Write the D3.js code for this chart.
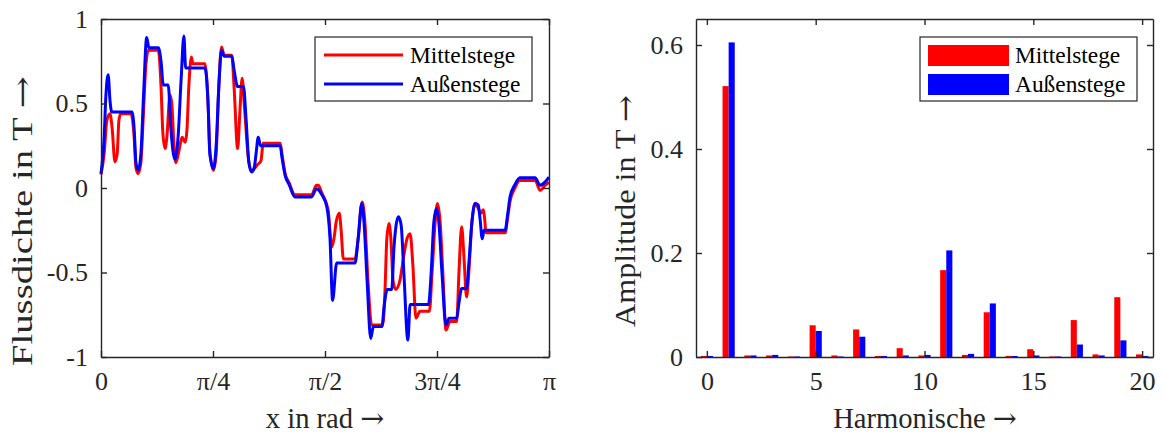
<!DOCTYPE html>
<html>
<head>
<meta charset="utf-8">
<script src="https://cdn.jsdelivr.net/npm/d3@7"></script>
<style>
  body { margin: 0; background: #fff; }
  svg { display: block; }
  text { font-family: "Liberation Serif", "Times New Roman", serif; }
  tspan.arr { font-family: "DejaVu Serif", serif; }
</style>
</head>
<body>
<svg id="chart" width="1163" height="435"></svg>
<script>
// left plot: flux density along x (x given as fraction of pi)
var mittelX = [0.000,0.007,0.013,0.020,0.025,0.031,0.036,0.040,0.044,0.067,0.074,0.078,0.083,0.089,0.094,0.100,0.106,0.128,0.134,0.138,0.143,0.147,0.154,0.158,0.163,0.167,0.174,0.181,0.188,0.192,0.196,0.202,0.205,0.232,0.239,0.243,0.251,0.257,0.263,0.269,0.275,0.292,0.297,0.305,0.310,0.315,0.321,0.328,0.336,0.344,0.350,0.357,0.362,0.400,0.404,0.411,0.420,0.433,0.470,0.481,0.485,0.493,0.507,0.515,0.520,0.525,0.532,0.536,0.541,0.567,0.574,0.583,0.589,0.596,0.604,0.629,0.634,0.638,0.643,0.647,0.652,0.658,0.667,0.676,0.683,0.690,0.696,0.703,0.712,0.733,0.739,0.746,0.751,0.757,0.763,0.770,0.779,0.794,0.799,0.805,0.810,0.816,0.821,0.828,0.835,0.842,0.848,0.853,0.857,0.859,0.902,0.908,0.913,0.924,0.935,0.969,0.980,0.991,1.000]
var mittelB = [0.08,0.2,0.4,0.44,0.35,0.155,0.2,0.4,0.44,0.44,0.3,0.12,0.085,0.15,0.4,0.72,0.815,0.815,0.6,0.33,0.233,0.3,0.55,0.5,0.25,0.15,0.22,0.3,0.27,0.35,0.6,0.775,0.735,0.735,0.5,0.22,0.105,0.2,0.6,0.835,0.785,0.785,0.6,0.233,0.45,0.65,0.45,0.2,0.10,0.12,0.14,0.16,0.265,0.265,0.2,0.085,0.03,-0.04,-0.04,0.016,0.016,-0.03,-0.13,-0.35,-0.3,-0.2,-0.15,-0.25,-0.42,-0.42,-0.3,-0.083,-0.2,-0.55,-0.81,-0.81,-0.6,-0.3,-0.21,-0.3,-0.55,-0.6,-0.55,-0.4,-0.3,-0.27,-0.45,-0.77,-0.73,-0.73,-0.5,-0.2,-0.092,-0.2,-0.5,-0.84,-0.79,-0.79,-0.5,-0.23,-0.4,-0.645,-0.5,-0.2,-0.09,-0.12,-0.15,-0.128,-0.2,-0.265,-0.265,-0.17,-0.08,0.0,0.045,0.045,-0.014,0.015,0.035]

var aussenX = [0.000,0.007,0.011,0.016,0.020,0.024,0.069,0.074,0.078,0.083,0.089,0.095,0.102,0.107,0.128,0.134,0.139,0.150,0.156,0.165,0.172,0.179,0.185,0.189,0.232,0.239,0.243,0.251,0.257,0.263,0.269,0.275,0.292,0.297,0.305,0.318,0.324,0.330,0.336,0.342,0.346,0.351,0.356,0.400,0.404,0.411,0.420,0.433,0.470,0.481,0.485,0.493,0.504,0.511,0.517,0.526,0.567,0.574,0.582,0.587,0.594,0.602,0.608,0.627,0.632,0.639,0.649,0.654,0.664,0.670,0.676,0.685,0.690,0.731,0.737,0.743,0.749,0.754,0.761,0.770,0.777,0.794,0.799,0.805,0.816,0.821,0.828,0.835,0.842,0.846,0.851,0.855,0.902,0.908,0.913,0.924,0.935,0.969,0.980,0.991,1.000]
var aussenB = [0.085,0.3,0.55,0.67,0.52,0.45,0.45,0.35,0.15,0.105,0.2,0.55,0.89,0.83,0.83,0.75,0.61,0.61,0.35,0.17,0.3,0.65,0.90,0.71,0.71,0.5,0.2,0.115,0.25,0.6,0.815,0.78,0.78,0.7,0.60,0.60,0.4,0.15,0.095,0.12,0.2,0.30,0.25,0.25,0.18,0.075,0.02,-0.053,-0.053,-0.004,-0.01,-0.04,-0.11,-0.29,-0.665,-0.444,-0.444,-0.3,-0.092,-0.2,-0.55,-0.89,-0.82,-0.82,-0.7,-0.60,-0.60,-0.35,-0.17,-0.22,-0.5,-0.90,-0.69,-0.69,-0.5,-0.2,-0.12,-0.2,-0.5,-0.81,-0.77,-0.77,-0.68,-0.595,-0.595,-0.45,-0.2,-0.092,-0.1,-0.18,-0.30,-0.25,-0.25,-0.15,-0.053,0.02,0.06,0.06,0.016,0.035,0.065]

var xTicks = [0, 0.25, 0.5, 0.75, 1]
var xTickLabels = ["0", "π/4", "π/2", "3π/4", "π"]
var yTicksL = [-1, -0.5, 0, 0.5, 1]

// right plot: harmonic amplitudes
var harmonics = d3.range(0, 21)
var mittelAmp = [0.002,0.521,0.003,0.003,0.001,0.061,0.003,0.053,0.002,0.017,0.003,0.167,0.004,0.086,0.002,0.015,0.001,0.071,0.005,0.115,0.005]
var aussenAmp = [0.002,0.605,0.003,0.004,0.001,0.050,0.001,0.039,0.002,0.003,0.004,0.205,0.006,0.103,0.002,0.003,0.001,0.024,0.003,0.032,0.002]
var hTicks = [0, 5, 10, 15, 20]
var yTicksR = [0, 0.2, 0.4, 0.6]

var seriesNames = ["Mittelstege", "Außenstege"]
var colors = ["#ff0000", "#0000ff"]

var axisCol = "#262626"
var tickFont = 26, labelFont = 28.6, legendFont = 23.4

var svg = d3.select("#chart")

function box(g, x, y, xt, yt, xFmt, yFmt) {
    var x0 = x.range()[0], x1 = x.range()[1]
    var y0 = y.range()[1], y1 = y.range()[0]
    var b = g.append("g").attr("transform", "translate(0," + y1 + ")")
        .call(d3.axisBottom(x).tickValues(xt).tickFormat(xFmt).tickSizeInner(-6).tickSizeOuter(0).tickPadding(15))
    var t = g.append("g").attr("transform", "translate(0," + y0 + ")")
        .call(d3.axisTop(x).tickValues(xt).tickFormat("").tickSizeInner(-6).tickSizeOuter(0))
    var l = g.append("g").attr("transform", "translate(" + x0 + ",0)")
        .call(d3.axisLeft(y).tickValues(yt).tickFormat(yFmt).tickSizeInner(-6).tickSizeOuter(0).tickPadding(13))
    var r = g.append("g").attr("transform", "translate(" + x1 + ",0)")
        .call(d3.axisRight(y).tickValues(yt).tickFormat("").tickSizeInner(-6).tickSizeOuter(0))
    ;[b, t, l, r].forEach(function(a) {
        a.attr("font-family", null).attr("font-size", tickFont)
        a.selectAll("path, line").attr("stroke", axisCol).attr("stroke-width", 1.4)
        a.selectAll("text").attr("fill", axisCol)
            .attr("font-family", "Liberation Serif")
    })
}

function legend(g, x, y, w, h, lines) {
    g.append("rect").attr("x", x).attr("y", y).attr("width", w).attr("height", h)
        .attr("fill", "#fff").attr("stroke", axisCol).attr("stroke-width", 1.2)
    seriesNames.forEach(function(name, i) {
        var cy = y + 18 + i * 29
        if (lines) {
            g.append("line").attr("x1", x + 9).attr("x2", x + 88).attr("y1", cy).attr("y2", cy)
                .attr("stroke", colors[i]).attr("stroke-width", 3)
        } else {
            g.append("rect").attr("x", x + 8).attr("y", cy - 10).attr("width", 81).attr("height", 21)
                .attr("fill", colors[i])
        }
        g.append("text").attr("x", x + 95).attr("y", cy + 8).text(name)
            .attr("font-size", legendFont).attr("fill", "#000")
    })
}

// len: stretch the label to the length it has in the original figure
function axisLabel(g, transform, label, len) {
    var t = g.append("text").attr("transform", transform).attr("text-anchor", "middle")
        .attr("font-size", labelFont).attr("fill", axisCol)
    if (len) t.attr("textLength", len).attr("lengthAdjust", "spacingAndGlyphs")
    t.append("tspan").text(label + " ")
    t.append("tspan").attr("class", "arr").text("→")
}

// ---- left: Flussdichte
var xL = d3.scaleLinear().domain([0, 1]).range([101, 549])
var yL = d3.scaleLinear().domain([-1, 1]).range([357, 19])
var gL = svg.append("g")

var line = d3.line()
    .x(function(d) { return xL(d[0]) })
    .y(function(d) { return yL(d[1]) })
    .curve(d3.curveMonotoneX)

var seriesL = [d3.zip(mittelX, mittelB), d3.zip(aussenX, aussenB)]
seriesL.forEach(function(s, i) {
    gL.append("path").datum(s).attr("d", line)
        .attr("fill", "none").attr("stroke", colors[i]).attr("stroke-width", 3)
        .attr("stroke-linejoin", "round")
})

box(gL, xL, yL, xTicks, yTicksL, function(d, i) { return xTickLabels[i] }, function(d) { return String(d) })
legend(gL, 315, 37, 217, 64, true)

axisLabel(gL, "translate(325,428)", "x in rad")
axisLabel(gL, "translate(32,221) rotate(-90)", "Flussdichte in T", 290)

// ---- right: Harmonische
var xR = d3.scaleLinear().domain([-0.5, 20.5]).range([696, 1153])
var yR = d3.scaleLinear().domain([0, 0.65]).range([357, 19])
var gR = svg.append("g")
var bw = 0.28

;[mittelAmp, aussenAmp].forEach(function(vals, i) {
    gR.append("g").selectAll("rect")
        .data(harmonics)
        .join("rect")
        .attr("x", function(h) { return i == 0 ? xR(h - bw) : xR(h) })
        .attr("width", xR(bw) - xR(0))
        .attr("y", function(h) { return yR(vals[h]) })
        .attr("height", function(h) { return yR(0) - yR(vals[h]) })
        .attr("fill", colors[i])
})

box(gR, xR, yR, hTicks, yTicksR, function(d) { return String(d) }, function(d) { return String(d) })
legend(gR, 920, 37, 217, 64, false)

axisLabel(gR, "translate(925,428)", "Harmonische")
axisLabel(gR, "translate(635,211) rotate(-90)", "Amplitude in T", 232)
</script>
</body>
</html>
